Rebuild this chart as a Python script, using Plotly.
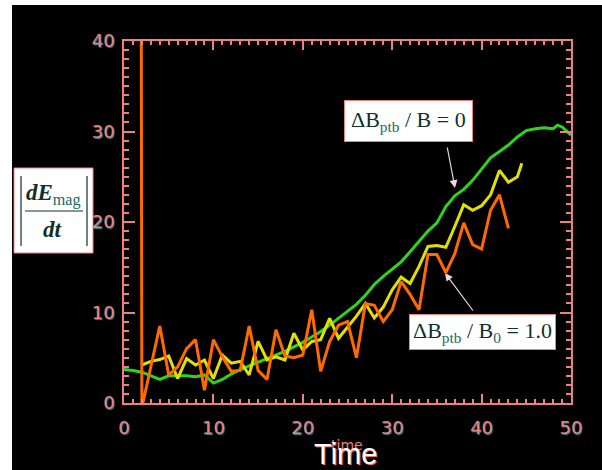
import plotly.graph_objects as go

# ---------------- data ----------------
green_t = [0, 1, 2, 3, 4, 5, 6, 7, 8, 9, 10, 11, 12, 13, 14, 15, 16, 17, 18, 19, 20,
           21, 22, 23, 24, 25, 26, 27, 28, 29, 30, 31, 32, 33, 34, 35, 36, 37, 38, 39,
           40, 41, 42, 43, 44, 45, 46, 47, 48, 48.5, 49, 50]
green_v = [3.7, 3.6, 3.4, 3.0, 2.6, 3.0, 3.0, 3.0, 2.9, 3.1, 2.2, 2.6, 3.2, 3.7, 4.1,
           4.5, 4.9, 5.3, 5.7, 6.2, 6.7, 7.3, 7.9, 8.6, 9.4, 10.2, 10.9, 11.9, 13.1,
           14.0, 14.8, 15.6, 16.7, 17.9, 19.0, 19.9, 21.7, 22.9, 23.6, 24.6, 25.9,
           27.1, 27.8, 28.5, 29.4, 30.1, 30.3, 30.4, 30.3, 30.7, 30.5, 29.6]

yellow_t = [2, 3, 4, 5, 6, 7, 8, 9, 10, 11, 12, 13, 14, 15, 16, 17, 18, 19, 20, 21,
            22, 23, 24, 25, 26, 27, 28, 29, 30, 31, 32, 33, 34, 35, 36, 37, 38, 39,
            40, 41, 42, 43, 44, 44.5]
yellow_v = [4.2, 4.6, 4.8, 5.2, 2.7, 4.9, 4.2, 4.75, 2.7, 5.3, 4.4, 4.6, 3.1, 6.8,
            4.75, 5.1, 4.75, 7.7, 5.85, 6.8, 7.0, 9.35, 7.15, 8.4, 9.6, 11.0, 9.4,
            10.6, 12.5, 13.9, 13.2, 15.1, 17.3, 17.4, 17.2, 19.5, 21.9, 21.3, 21.8,
            23.0, 25.7, 24.4, 25.0, 26.5]

orange_t = [1.9, 2, 3, 4, 5, 6, 7, 8, 9, 10, 11, 12, 13, 14, 15, 16, 17, 18, 19, 20,
            21, 22, 23, 24, 25, 26, 27, 28, 29, 30, 31, 32, 33, 34, 35, 36, 37, 38,
            39, 40, 41, 42, 43]
orange_v = [60, -0.5, 4.0, 8.5, 3.1, 4.0, 6.0, 7.0, 1.4, 7.0, 5.1, 3.5, 3.6, 8.5,
            3.6, 2.6, 8.1, 5.2, 5.0, 5.3, 10.3, 3.5, 6.8, 8.6, 9.0, 5.0, 11.0, 10.8,
            9.0, 10.3, 13.4, 12.0, 10.3, 16.4, 16.4, 14.4, 16.5, 19.9, 17.5, 17.0,
            21.3, 23.0, 19.3]

x_range = [0, 50]
y_range = [0, 40]
major_step = 10
minor_step = 1

# ---------------- layout geometry ----------------
W, H = 602, 470
L, R, T, B = 124, 571, 41, 403


def px(x):
    return (x - L) / (R - L)


def py(y):
    return (B - y) / (B - T)


AX = "#f08080"
TXT = "#10302e"
SUB = "#1a6a66"

fig = go.Figure()
fig.add_trace(go.Scatter(x=green_t, y=green_v, mode="lines",
                         line=dict(color="#2fd41a", width=3), showlegend=False))
fig.add_trace(go.Scatter(x=yellow_t, y=yellow_v, mode="lines",
                         line=dict(color="#e2e000", width=3), showlegend=False))
fig.add_trace(go.Scatter(x=orange_t, y=orange_v, mode="lines",
                         line=dict(color="#ff6a00", width=3), showlegend=False))

axis_common = dict(
    showgrid=False, zeroline=False, showline=True, linecolor=AX, linewidth=1.5,
    mirror="allticks", ticks="inside", tickcolor=AX, tickwidth=1.5,
    tickfont=dict(family="DejaVu Sans", size=18, color=AX,
                  shadow="1px 1px 1px #2a8f8f"),
    tickmode="linear", tick0=0, dtick=major_step,
)

fig.update_layout(
    xaxis=dict(**axis_common, range=x_range, ticklen=9, ticklabelstandoff=8,
               minor=dict(ticks="inside", ticklen=4, tickcolor=AX,
                          tickwidth=1.5, tick0=0, dtick=minor_step)),
    yaxis=dict(**axis_common, range=y_range, ticklen=11, ticklabelstandoff=4,
               minor=dict(ticks="inside", ticklen=5, tickcolor=AX,
                          tickwidth=1.5, tick0=0, dtick=minor_step)),
)

shapes = [
    # white outer margins of the picture
    dict(type="rect", xref="paper", yref="paper", x0=px(-10), x1=px(12),
         y0=py(-10), y1=py(480), fillcolor="white", line=dict(width=0)),
    dict(type="rect", xref="paper", yref="paper", x0=px(-10), x1=px(610),
         y0=py(-10), y1=py(5), fillcolor="white", line=dict(width=0)),
    # y-label box
    dict(type="rect", xref="paper", yref="paper", x0=px(14), x1=px(93),
         y0=py(168), y1=py(253), fillcolor="white",
         line=dict(color=AX, width=1)),
    # absolute value bars
    dict(type="line", xref="paper", yref="paper", x0=px(21), x1=px(21),
         y0=py(176), y1=py(246), line=dict(color=TXT, width=1.2)),
    dict(type="line", xref="paper", yref="paper", x0=px(87), x1=px(87),
         y0=py(176), y1=py(246), line=dict(color=TXT, width=1.2)),
    # fraction line
    dict(type="line", xref="paper", yref="paper", x0=px(25), x1=px(83),
         y0=py(211), y1=py(211), line=dict(color=TXT, width=1.2)),
]

C = dict(xref="paper", yref="paper", xanchor="center", yanchor="middle")

annotations = [
    dict(**C, x=px(53), y=py(194), showarrow=False,
         text=f"<b><i>dE</i></b><span style='color:{SUB}'><sub>mag</sub></span>",
         font=dict(family="Liberation Serif", size=23, color=TXT)),
    dict(**C, x=px(52), y=py(230), showarrow=False,
         text="<b><i>dt</i></b>",
         font=dict(family="Liberation Serif", size=23, color=TXT)),
    # boxed labels
    dict(**C, x=px(408.5), y=py(121), showarrow=False,
         text=f"ΔB<span style='color:{SUB}'><sub>ptb</sub></span> / B = 0",
         font=dict(family="Liberation Serif", size=22, color=TXT),
         bgcolor="white", bordercolor=AX, borderwidth=1, borderpad=6),
    dict(**C, x=px(482), y=py(331.5), showarrow=False,
         text=f"ΔB<span style='color:{SUB}'><sub>ptb</sub></span> / B<span style='color:{SUB}'><sub>0</sub></span> = 1.0",
         font=dict(family="Liberation Serif", size=22, color=TXT),
         bgcolor="white", bordercolor=AX, borderwidth=1, borderpad=3),
    # arrows
    dict(xref="paper", yref="paper", x=px(455), y=py(188), text="",
         showarrow=True, ax=-8, ay=-42, arrowcolor="#f0d8d8", arrowwidth=1.2,
         arrowhead=2, arrowsize=1.3),
    dict(xref="paper", yref="paper", x=px(445), y=py(273), text="",
         showarrow=True, ax=29, ay=39, arrowcolor="#f0d8d8", arrowwidth=1.2,
         arrowhead=2, arrowsize=1.3),
    # axis titles
    dict(**C, x=px(347), y=py(445), showarrow=False,
         text="time", font=dict(family="DejaVu Sans", size=14, color=AX)),
    dict(**C, x=px(345), y=py(454), showarrow=False,
         text="Time",
         font=dict(family="Liberation Sans", size=29, color="white",
                   shadow="1px 1px 0px #f07070")),
]

fig.update_layout(
    width=W, height=H,
    margin=dict(l=L, r=W - R, t=T, b=H - B, pad=0),
    paper_bgcolor="black", plot_bgcolor="black",
    shapes=shapes, annotations=annotations,
)

fig.write_html("out.html")
